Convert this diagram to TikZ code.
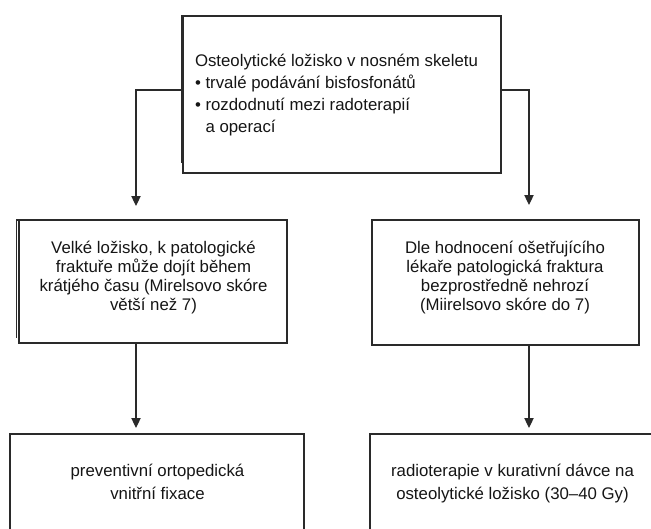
\documentclass[tikz,border=0pt]{standalone}
\usepackage{fontspec}
\setmainfont{Liberation Sans}
\usetikzlibrary{arrows.meta}
\definecolor{linec}{HTML}{2A2A2A}
\definecolor{textc}{HTML}{151515}
\begin{document}
\begin{tikzpicture}[x=0.75pt,y=-0.75pt,
  box/.style={draw=linec, line width=0.85pt, inner sep=0pt, outer sep=0pt},
  lbl/.style={inner sep=0pt, outer sep=0pt, text=textc},
  lblA/.style={lbl, align=left, font=\fontsize{12.6}{16.5}\selectfont},
  lblB/.style={lbl, align=center, font=\fontsize{12.6}{14.25}\selectfont},
  lblC/.style={lbl, align=center, font=\fontsize{12.6}{17.25}\selectfont},
  conn/.style={draw=linec, line width=0.85pt, -{Triangle[width=7pt,length=7.5pt]}}]
\useasboundingbox (0,0) rectangle (651,529);
\clip (0,0) rectangle (651,529);
% boxes
\node[box, minimum width=238.5pt, minimum height=117.75pt] (b1) at (342,94.5) {};
\node[box, minimum width=201pt, minimum height=92.25pt] (b2) at (153,281.5) {};
\node[box, minimum width=200.25pt, minimum height=93.75pt] (b3) at (505.5,282.5) {};
\node[box, minimum width=220.5pt, minimum height=73.5pt] (b4) at (157,483) {};
\node[box, minimum width=213pt, minimum height=73.5pt] (b5) at (512,483) {};
% shadow lines at the left of boxes 1 and 2
\draw[linec, line width=0.85pt] (b2.north west) -- ++(-2.5,0) -- ++(0,118);
\draw[linec, line width=0.85pt] (b1.north west) -- ++(-1,0) -- ++(0,147);
% texts
\node[lblA, anchor=west] (t1) at (195,95.3) {Osteolytické ložisko v nosném skeletu\\
• trvalé podávání bisfosfonátů\\
• rozdodnutí mezi radoterapií\\
\hphantom{•\ }a operací};
\node[lblB] (t2) at (153.5,277.8) {Velké ložisko, k patologické\\fraktuře může dojít během\\krátjého času (Mirelsovo skóre\\větší než 7)};
\node[lblB] (t3) at (505,278) {Dle hodnocení ošetřujícího\\lékaře patologická fraktura\\bezprostředně nehrozí\\(Miirelsovo skóre do 7)};
\node[lblC] (t4) at (157.5,482) {preventivní ortopedická\\vnitřní fixace};
\node[lblC] (t5) at (512.5,483.7) {radioterapie v kurativní dávce na\\osteolytické ložisko (30–40 Gy)};
% connector ends
\coordinate (a1) at (136,206);
\coordinate (a2) at (529,205);
\coordinate (a3) at (136,428);
\coordinate (a4) at (529,428);
\draw[conn] ([yshift=3.4pt]b1.west) -| (a1);
\draw[conn] ([yshift=3.4pt]b1.east) -| (a2);
\draw[conn] (b2.south -| a1) -- (a3);
\draw[conn] (b3.south -| a4) -- (a4);
\end{tikzpicture}
\end{document}
